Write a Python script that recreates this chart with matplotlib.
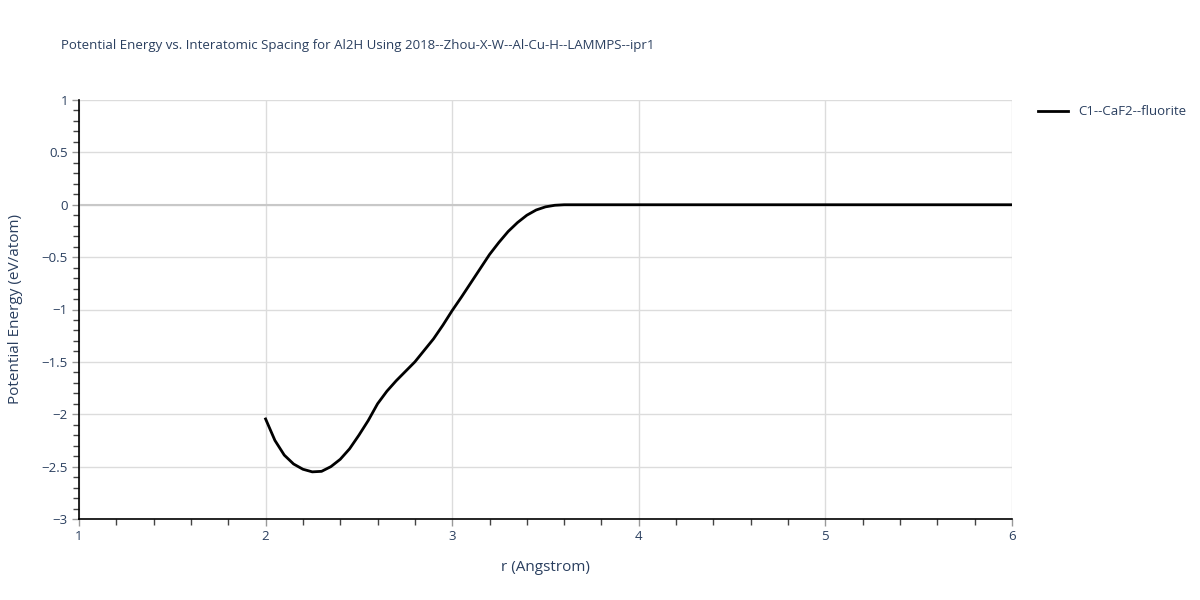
import matplotlib
import matplotlib.pyplot as plt
from matplotlib.ticker import MultipleLocator, FuncFormatter

matplotlib.use('Agg')

# energy curve
r = [2.00, 2.05, 2.10, 2.15, 2.20, 2.25, 2.30, 2.35, 2.40, 2.45,
     2.50, 2.55, 2.60, 2.65, 2.70, 2.75, 2.80, 2.85, 2.90, 2.95,
     3.00, 3.05, 3.10, 3.15, 3.20, 3.25, 3.30, 3.35, 3.40, 3.45,
     3.50, 3.55, 3.60, 3.65, 4.00, 4.50, 5.00, 5.50, 6.00]
energy = [-2.045, -2.25, -2.39, -2.475, -2.525, -2.55, -2.545, -2.50, -2.43, -2.33,
          -2.20, -2.06, -1.90, -1.78, -1.68, -1.59, -1.50, -1.39, -1.28, -1.15,
          -1.01, -0.88, -0.745, -0.61, -0.475, -0.36, -0.255, -0.17, -0.10, -0.05,
          -0.02, -0.005, 0.0, 0.0, 0.0, 0.0, 0.0, 0.0, 0.0]
series_name = 'C1--CaF2--fluorite'
title = 'Potential Energy vs. Interatomic Spacing for Al2H Using 2018--Zhou-X-W--Al-Cu-H--LAMMPS--ipr1'

txt = '#2a3f5f'
plt.rcParams['font.family'] = ['Open Sans', 'DejaVu Sans']

fig = plt.figure(figsize=(12, 6), dpi=100)
ax = fig.add_axes([79 / 1200, 1 - 519 / 600, (1012 - 79) / 1200, (519 - 100) / 600])

ax.plot(r, energy, color='black', lw=2, label=series_name, zorder=3)

ax.set_xlim(1, 6)
ax.set_ylim(-3, 1)
ax.xaxis.set_major_locator(MultipleLocator(1))
ax.xaxis.set_minor_locator(MultipleLocator(0.2))
ax.yaxis.set_major_locator(MultipleLocator(0.5))
ax.yaxis.set_minor_locator(MultipleLocator(0.1))
ax.yaxis.set_major_formatter(FuncFormatter(lambda v, p: ('%g' % v).replace('-', '\u2212')))

ax.grid(True, which='major', color='#dcdcdc', lw=1)
ax.axhline(0, color='#c8c8c8', lw=1.5, zorder=1)
ax.set_axisbelow(True)

for s in ['top', 'right']:
    ax.spines[s].set_visible(False)
for s in ['left', 'bottom']:
    ax.spines[s].set_color('black')
    ax.spines[s].set_linewidth(1.2)

ax.tick_params(which='major', direction='out', length=5, width=1, color='#999999',
               labelcolor=txt, labelsize=9.5, pad=3)
ax.tick_params(which='minor', direction='out', length=4, width=1, color='#444444')

ax.set_xlabel('r (Angstrom)', color=txt, fontsize=11, labelpad=12)
ax.set_ylabel('Potential Energy (eV/atom)', color=txt, fontsize=11, labelpad=13)

fig.text(61 / 1200, 1 - 45 / 600, title, color=txt, fontsize=9.5, va='center', ha='left')

leg = ax.legend(loc='upper left', bbox_to_anchor=(1.022, 1.0), frameon=False,
                fontsize=9.5, handlelength=2.3, borderaxespad=0)
for t in leg.get_texts():
    t.set_color(txt)

fig.savefig('out.png', dpi=100)
